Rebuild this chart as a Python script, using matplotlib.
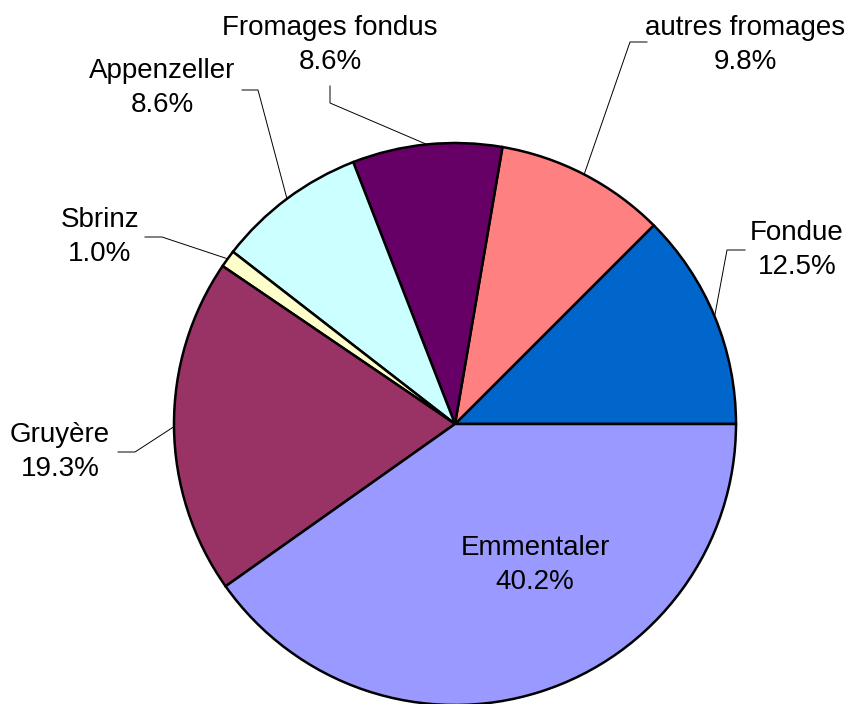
import numpy as np
import matplotlib.pyplot as plt

# cheese shares (percent), counterclockwise from 3 o'clock
labels = ["Fondue", "autres fromages", "Fromages fondus", "Appenzeller",
          "Sbrinz", "Gruyère", "Emmentaler"]
shares = [12.5, 9.8, 8.6, 8.6, 1.0, 19.3, 40.2]
colors = ["#0066CC", "#FF8080", "#660066", "#CCFFFF", "#FFFFCC", "#993366", "#9999FF"]

plt.rcParams['font.family'] = ['Liberation Sans', 'DejaVu Sans']

W, H = 859, 704
fig = plt.figure(figsize=(W / 100, H / 100), dpi=100)
ax = fig.add_axes([0, 0, 1, 1])

cx, cy, R = 455, H - 424, 281
wedges, _ = ax.pie(shares, colors=colors, startangle=0, counterclock=True,
                   center=(cx, cy), radius=R, frame=True,
                   wedgeprops=dict(edgecolor='black', linewidth=1.8))
ax.set_xlim(0, W)
ax.set_ylim(0, H)
ax.set_aspect('equal')
ax.axis('off')

# label text centre and leader line elbows (pixel coords, top-left origin)
text_pos = [(797, 250), (745, 45), (330, 45), (162, 88), (100, 237), (60, 452), (535, 565)]
elbow = [(727, 250), (630, 42), (330, 103), (258, 90), (162, 237), (135, 452), None]
start = [(745, 250), (647, 42), (330, 86), (242, 90), (145, 237), (118, 452), None]

for w, lab, s, tp, el, st in zip(wedges, labels, shares, text_pos, elbow, start):
    mid = np.deg2rad((w.theta1 + w.theta2) / 2)
    px, py = cx + R * np.cos(mid), cy + R * np.sin(mid)
    ax.text(tp[0], H - tp[1], f"{lab}\n{s:.1f}%", ha='center', va='center',
            fontsize=20, linespacing=1.38)
    if el is not None:
        ax.plot([st[0], el[0], px], [H - st[1], H - el[1], py],
                color='black', linewidth=0.7, solid_joinstyle='miter')

fig.savefig("out.png", dpi=100)
